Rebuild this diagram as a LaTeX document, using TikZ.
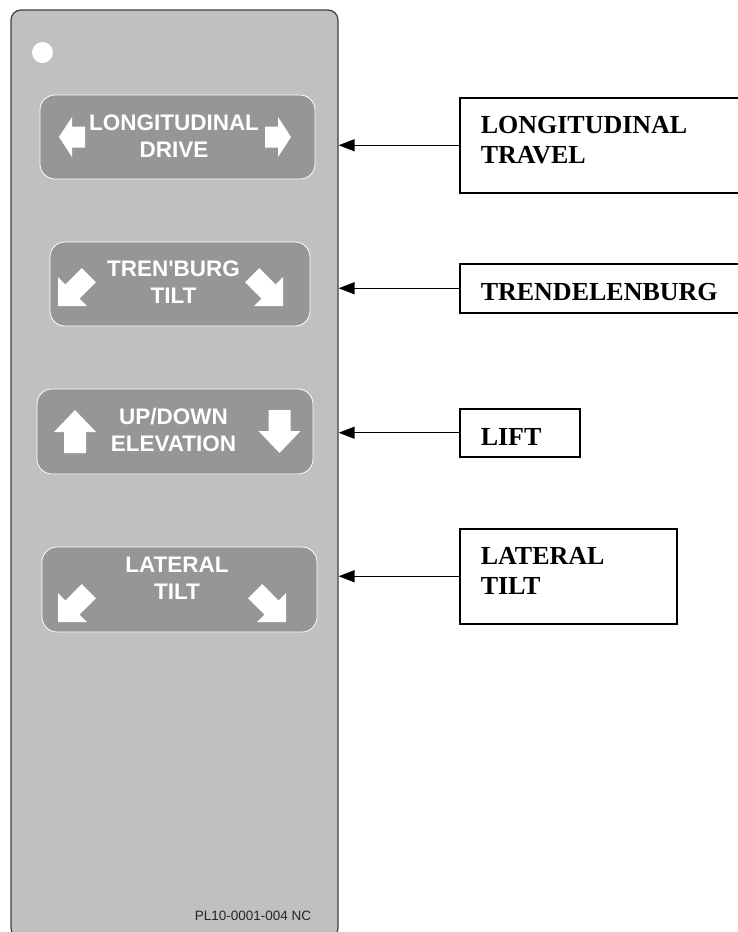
\documentclass[tikz,border=0pt]{standalone}
\usepackage{fontspec}
\setmainfont{Liberation Serif}
\setsansfont{Liberation Sans}
\usepackage{tikz}
\usetikzlibrary{arrows.meta,positioning}
\definecolor{panelgray}{HTML}{C0C0C0}
\definecolor{btngray}{HTML}{969696}

\begin{document}
\begin{tikzpicture}[x=1pt, y=-1pt,
    panel/.style={draw=black!75, line width=1.2pt, fill=panelgray, rounded corners=10pt,
                  minimum width=327pt, minimum height=928pt, inner sep=0pt},
    btn/.style={draw=white, line width=0.8pt, fill=btngray, rounded corners=15pt,
                minimum height=84pt, inner sep=0pt},
    btntext/.style={anchor=base, align=center, text=white, inner sep=0pt,
                    font=\sffamily\bfseries\fontsize{22.5}{27}\selectfont},
    labelbox/.style={draw, line width=1.5pt, anchor=north west, align=left, inner xsep=21pt,
                     inner ysep=0pt, font=\bfseries\fontsize{26}{30}\selectfont,
                     text height=24.5pt, text depth=0pt},
    twoline/.style={text depth=49pt},
    pointer/.style={-{Triangle[length=16pt, width=12pt]}, line width=1.3pt},
    drivearrow/.pic={\fill[white] (0,0) -- (13,-20) -- (13,-10.5) -- (26,-10.5) -- (26,10.5) -- (13,10.5) -- (13,20) -- cycle;},
    tiltarrow/.pic={\fill[white] (0,0) -- (20.5,-20.5) -- (20.5,-10) -- (43.5,-10) -- (43.5,10) -- (20.5,10) -- (20.5,20.5) -- cycle;},
    liftarrow/.pic={\fill[white] (0,0) -- (22,-21) -- (22,-11) -- (43,-11) -- (43,11) -- (22,11) -- (22,21) -- cycle;}
]
    \useasboundingbox (0,0) rectangle (737,932);

    % Pendant panel
    \node[panel] (panel) at (174.5,474) {};
    \node[circle, fill=white, minimum size=21pt, inner sep=0pt] (hole) at (42.5,52.5) {};

    % Buttons
    \node[btn, minimum width=275pt] (drivebtn) at (177.5,137) {};
    \node[btn, minimum width=260pt] (tiltbtn) at (180,284) {};
    \node[btn, minimum width=276pt, minimum height=85pt] (liftbtn) at (175,431.5) {};
    \node[btn, minimum width=275pt, minimum height=85pt] (latbtn) at (179.5,589.5) {};

    % Button arrows
    \pic[rotate=0] at (59,137) {drivearrow};
    \pic[rotate=180] at (291,137) {drivearrow};
    \pic[rotate=45] at (58,306) {tiltarrow};
    \pic[rotate=135] at (283,306) {tiltarrow};
    \pic[rotate=-90] at (75,410) {liftarrow};
    \pic[rotate=90] at (279.5,453) {liftarrow};
    \pic[rotate=45] at (58,622) {tiltarrow};
    \pic[rotate=135] at (286,622) {tiltarrow};

    % Button texts (base = last line)
    \node[btntext] (drivetxt) at (174,157) {LONGITUDINAL\\DRIVE};
    \node[btntext] (tilttxt) at (173.5,303) {TREN\textquotesingle BURG\\TILT};
    \node[btntext] (lifttxt) at (173.5,451) {UP/DOWN\\ELEVATION};
    \node[btntext] (lattxt) at (177,599) {LATERAL\\TILT};

    \node[anchor=base, inner sep=0pt, text=black!85, font=\sffamily\fontsize{13.5}{16}\selectfont]
        (partno) at (253,920) {PL10-0001-004 NC};

    % Function labels
    \node[labelbox, twoline, text width=259pt, minimum height=95pt] (travel) at (459,97) {LONGITUDINAL\\TRAVEL};
    \node[labelbox, text width=259pt, minimum height=49pt] (trend) at (459,263) {TRENDELENBURG};
    \node[labelbox, text width=78pt, minimum height=48pt] (lift) at (459,408) {LIFT};
    \node[labelbox, twoline, text width=175pt, minimum height=95pt] (lateral) at (459,528) {LATERAL\\TILT};

    % Pointers
    \draw[pointer] (travel.west) -- (travel.west -| panel.east);
    \draw[pointer] (trend.west) -- (trend.west -| panel.east);
    \draw[pointer] (lift.west) -- (lift.west -| panel.east);
    \draw[pointer] (lateral.west) -- (lateral.west -| panel.east);
\end{tikzpicture}
\end{document}
